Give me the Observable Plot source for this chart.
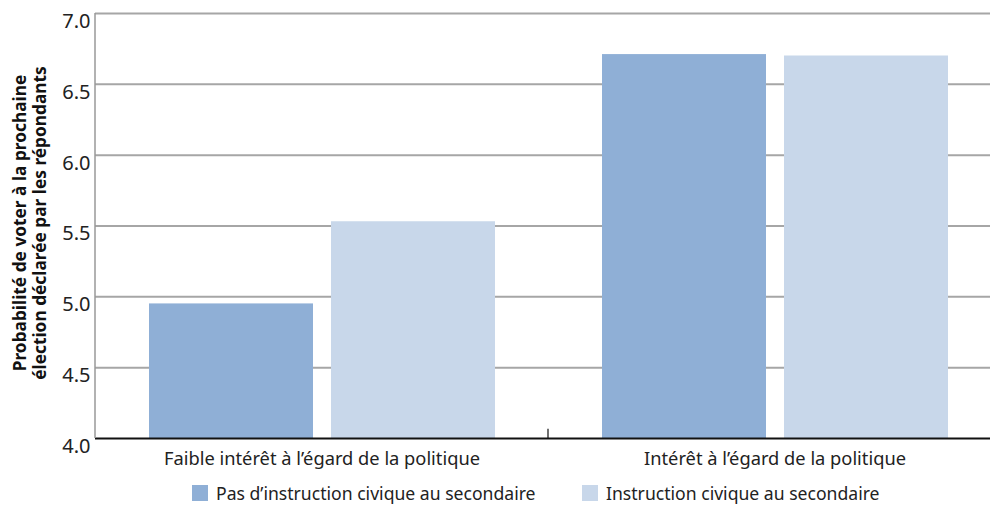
<!DOCTYPE html>
<html><head><meta charset="utf-8">
<script src="https://cdn.jsdelivr.net/npm/d3@7"></script>
<script src="https://cdn.jsdelivr.net/npm/@observablehq/plot@0.6"></script>
<style>
html,body{margin:0;padding:0;background:#fff;overflow:hidden;}
#wrap{position:relative;width:990px;height:506px;font-family:"Noto Sans",Lato,sans-serif;color:#222;}
#ytitle{position:absolute;left:30px;top:223px;transform:translate(-50%,-50%) rotate(-90deg);white-space:nowrap;text-align:center;font-weight:700;font-size:17.3px;line-height:20px;color:#111;}
.legend{position:absolute;top:484px;height:18px;display:flex;align-items:center;font-size:17.6px;line-height:18px;color:#222;}
.sw{width:16px;height:16px;margin-right:8px;}
</style></head>
<body><div id="wrap"><div id="chart"></div>
<div id="ytitle">Probabilité de voter à la prochaine<br>élection déclarée par les répondants</div>
<div class="legend" id="lg1" style="left:192px"></div>
<div class="legend" id="lg2" style="left:582px"></div>
</div>
<script>
const groups = ["Faible intérêt à l’égard de la politique", "Intérêt à l’égard de la politique"];
const series = ["Pas d’instruction civique au secondaire", "Instruction civique au secondaire"];
const noCivics = [4.95, 6.71];
const civics = [5.53, 6.70];
const colors = ["#8fafd6", "#c8d7ea"];
const yTicks = [4.0, 4.5, 5.0, 5.5, 6.0, 6.5, 7.0];

const data = [];
groups.forEach((g, i) => {
  data.push({group: g, series: series[0], value: noCivics[i]});
  data.push({group: g, series: series[1], value: civics[i]});
});

const plot = Plot.plot({
  width: 990,
  height: 478,
  marginLeft: 95,
  marginRight: -11,
  marginTop: 13,
  marginBottom: 40,
  style: {fontFamily: "'Noto Sans', Lato, sans-serif", color: "#222", overflow: "hidden"},
  fx: {domain: groups, padding: 0, label: null},
  x: {domain: series, paddingInner: 0.1, paddingOuter: 0.294, axis: null},
  y: {domain: [4, 7], label: null},
  color: {domain: series, range: colors},
  marks: [
    Plot.ruleY(yTicks.slice(1), {stroke: "#a6a6a6", strokeWidth: 2}),
    Plot.barY(data, {fx: "group", x: "series", y1: yTicks[0], y2: "value", fill: "series"}),
    Plot.ruleY([yTicks[0]], {stroke: "#111", strokeWidth: 2}),
    Plot.axisY({ticks: yTicks, tickFormat: d => d.toFixed(1), tickSize: 0, tickPadding: 5, dy: 8, fontSize: 20, fill: "#222", label: null}),
    Plot.axisFx({anchor: "bottom", tickSize: 0, tickPadding: 13, fontSize: 18.3, fill: "#222", label: null})
  ]
});
document.getElementById("chart").appendChild(plot);

// left axis line and the category divider tick, placed via the plot's scales
const svg = d3.select(plot.tagName.toLowerCase() === "svg" ? plot : plot.querySelector("svg"));
const fxS = plot.scale("fx"), yS = plot.scale("y");
const left = fxS.apply(groups[0]), mid = fxS.apply(groups[1]);
svg.append("line").attr("x1", left).attr("x2", left)
  .attr("y1", yS.apply(7)).attr("y2", yS.apply(4))
  .attr("stroke", "#999").attr("stroke-width", 1.5);
svg.append("line").attr("x1", mid).attr("x2", mid)
  .attr("y1", yS.apply(4.065)).attr("y2", yS.apply(4))
  .attr("stroke", "#111").attr("stroke-width", 1.2);

[["lg1", 0], ["lg2", 1]].forEach(([id, i]) => {
  const el = document.getElementById(id);
  el.innerHTML = `<div class="sw" style="background:${colors[i]}"></div><span>${series[i]}</span>`;
});
</script>
</body></html>
